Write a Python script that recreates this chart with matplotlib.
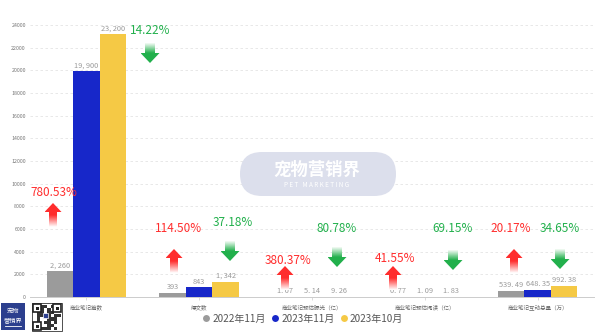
import matplotlib
matplotlib.use("Agg")
import matplotlib.pyplot as plt
import numpy as np
from matplotlib.patches import Polygon, FancyBboxPatch, Rectangle
from matplotlib.lines import Line2D
from matplotlib.colors import LinearSegmentedColormap

plt.rcParams['font.family'] = ['Noto Sans CJK SC', 'DejaVu Sans']

categories = ["商业笔记篇数", "爆文数", "商业笔记预估曝光（亿）", "商业笔记预估阅读（亿）", "商业笔记互动总量（万）"]
series_names = ["2022年11月", "2023年11月", "2023年10月"]
v_2022_11 = [2260, 393, 1.07, 0.77, 539.49]
v_2023_11 = [19900, 843, 5.14, 1.09, 648.35]
v_2023_10 = [23200, 1342, 9.26, 1.83, 992.38]
labels_2022_11 = ["2, 260", "393", "1. 07", "0. 77", "539. 49"]
labels_2023_11 = ["19, 900", "843", "5. 14", "1. 09", "648. 35"]
labels_2023_10 = ["23, 200", "1, 342", "9. 26", "1. 83", "992. 38"]
yoy_pct = ["780.53%", "114.50%", "380.37%", "41.55%", "20.17%"]
mom_pct = ["14.22%", "37.18%", "80.78%", "69.15%", "34.65%"]
yticks = list(range(0, 24001, 2000))

colors = ["#9b9b9b", "#1727c9", "#f5c945"]
RED = "#ff2d2d"
GREEN = "#22b04c"

W, H = 600, 334
fig = plt.figure(figsize=(6, 3.34), dpi=100)
fig.patch.set_facecolor("white")
ax = fig.add_axes([30 / W, 1 - 297 / H, 564 / W, (297 - 25) / H])

x = np.arange(len(categories))
bw = 0.235
all_vals = [v_2022_11, v_2023_11, v_2023_10]
all_labels = [labels_2022_11, labels_2023_11, labels_2023_10]
for i, (vals, labs) in enumerate(zip(all_vals, all_labels)):
    pos = x + (i - 1) * bw
    ax.bar(pos, vals, width=bw, color=colors[i], zorder=3, label=series_names[i])
    for p, v, l in zip(pos, vals, labs):
        ax.text(p, v + 150, l, ha="center", va="bottom", fontsize=5.3, color="#9a9a9a", zorder=4)

ax.set_xlim(-0.5, len(categories) - 0.5)
ax.set_ylim(0, 24000)
ax.set_yticks(yticks)
ax.set_yticklabels([str(t) for t in yticks], fontsize=3.8, color="#777777")
ax.set_xticks(x)
ax.set_xticklabels(categories, fontsize=4, color="#666666")
ax.tick_params(axis="y", length=0, pad=3)
ax.tick_params(axis="x", length=2.5, width=0.5, color="#cccccc", pad=3)
ax.grid(axis="y", linestyle=(0, (3, 3)), color="#e4e4e4", linewidth=0.6, zorder=0)
for s in ["top", "right", "left"]:
    ax.spines[s].set_visible(False)
ax.spines["bottom"].set_color("#cccccc")
ax.spines["bottom"].set_linewidth(0.7)

handles = [Line2D([0], [0], marker="o", color="w", markerfacecolor=c, markersize=6) for c in colors]
ax.legend(handles, series_names, loc="center", bbox_to_anchor=(0.505, 0.046),
          bbox_transform=fig.transFigure, ncol=3, frameon=False, fontsize=7.2,
          handlelength=0.7, handletextpad=0.25, columnspacing=0.6, labelcolor="#555555")

# overlay in pixel coordinates
ov = fig.add_axes([0, 0, 1, 1])
ov.set_xlim(0, W)
ov.set_ylim(H, 0)
ov.axis("off")
ov.patch.set_alpha(0)


def gradient_arrow(cx, y0, up, color, length, head_h, head_w, shaft_w):
    if up:
        tip = y0
        pts = [(cx, tip), (cx + head_w / 2, tip + head_h), (cx + shaft_w / 2, tip + head_h),
               (cx + shaft_w / 2, tip + length), (cx - shaft_w / 2, tip + length),
               (cx - shaft_w / 2, tip + head_h), (cx - head_w / 2, tip + head_h)]
        top, bot = tip, tip + length
        cmap = LinearSegmentedColormap.from_list("g", [color, color, "#ffffff"])
    else:
        top = y0
        tip = y0 + length
        pts = [(cx - shaft_w / 2, top), (cx + shaft_w / 2, top), (cx + shaft_w / 2, tip - head_h),
               (cx + head_w / 2, tip - head_h), (cx, tip), (cx - head_w / 2, tip - head_h),
               (cx - shaft_w / 2, tip - head_h)]
        bot = tip
        cmap = LinearSegmentedColormap.from_list("g", ["#f4fbf5", color, color])
    poly = Polygon(pts, closed=True, facecolor="none", edgecolor="none")
    ov.add_patch(poly)
    grad = np.linspace(0, 1, 64).reshape(-1, 1)
    im = ov.imshow(grad, cmap=cmap, aspect="auto",
                   extent=(cx - head_w / 2, cx + head_w / 2, bot, top), zorder=5)
    im.set_clip_path(poly)


red_text_pos = [(54, 192), (179, 228), (288, 260), (395, 259), (511, 228)]
red_arrow_pos = [(53, 203), (174, 249), (285, 266), (393, 266), (514, 249)]
green_text_pos = [(150, 30), (233, 222), (337, 228), (453, 228), (560, 229)]
green_arrow_pos = [(150, 43), (230, 241), (337, 247), (453, 250), (560, 249)]

for t, (tx, ty), (axx, ayy) in zip(yoy_pct, red_text_pos, red_arrow_pos):
    ov.text(tx, ty, t, ha="center", va="center", fontsize=8.5, color=RED, zorder=6)
    gradient_arrow(axx, ayy, True, RED, 24, 9, 17, 8)
for t, (tx, ty), (axx, ayy) in zip(mom_pct, green_text_pos, green_arrow_pos):
    ov.text(tx, ty, t, ha="center", va="center", fontsize=8.5, color=GREEN, zorder=6)
    gradient_arrow(axx, ayy, False, GREEN, 20, 10, 19, 10)

# watermark pill
ov.add_patch(FancyBboxPatch((240, 152), 156, 44, boxstyle="round,pad=0,rounding_size=22",
                            facecolor="#dcdfec", edgecolor="none", zorder=2))
ov.text(317, 170, "宠物营销界", ha="center", va="center", fontsize=12.5, color="white",
        fontweight="bold", zorder=3)
ov.text(317, 185, "P E T   M A R K E T I N G", ha="center", va="center", fontsize=4.6,
        color="white", zorder=3)

# logo bottom-left
ov.add_patch(Rectangle((1, 303), 24, 27, facecolor="#2c3f8e", edgecolor="none", zorder=3))
ov.text(13, 311, "宠物", ha="center", va="center", fontsize=4.5, color="white", zorder=4)
ov.text(13, 320, "营销界", ha="center", va="center", fontsize=4.5, color="white", zorder=4)
ov.plot([5, 21], [326, 326], color="white", lw=0.6, zorder=4)
# QR-like block
ov.add_patch(Rectangle((32, 303), 30, 28, facecolor="#ffffff", edgecolor="#333333", lw=0.6, zorder=3))
qr_bits = "1011010011101001011011000110101101001110010110101100110010111010"
for k, b in enumerate(qr_bits):
    if b == "1":
        r, c = divmod(k, 8)
        ov.add_patch(Rectangle((33.5 + c * 3.4, 304.5 + r * 3.2), 3.4, 3.2,
                               facecolor="#333333", edgecolor="none", zorder=4))
for (qx, qy) in [(33, 304), (53, 304), (33, 322)]:
    ov.add_patch(Rectangle((qx, qy), 8, 8, facecolor="white", edgecolor="#222222", lw=1.2, zorder=5))
    ov.add_patch(Rectangle((qx + 2.5, qy + 2.5), 3, 3, facecolor="#222222", edgecolor="none", zorder=6))
ov.add_patch(Rectangle((43, 313), 5, 5, facecolor="#2c3f8e", edgecolor="white", lw=0.5, zorder=6))

fig.savefig("out.png", dpi=100, facecolor="white")
